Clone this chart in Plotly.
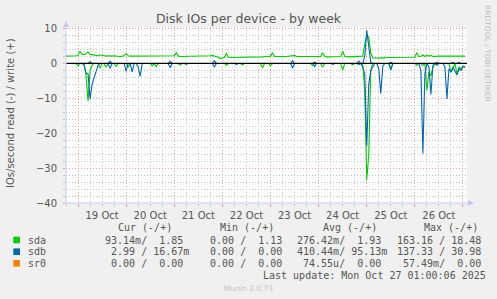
import pandas as pd
import plotly.graph_objects as go

# ---------------- data (hourly samples, first at 2025-10-18 18:00) ----------------
start = "2025-10-18 18:00"
n_hours = 200

sda_write = [
    2.1, 2.1, 2.0, 2.1, 2.2, 2.2, 2.3, 3.5, 2.6, 2.5, 2.8, 3.3, 2.6, 2.5, 2.3, 2.4, 2.2, 2.5, 2.3, 2.2,
    2.1, 2.2, 2.1, 2.1, 2.2, 2.1, 2.1, 2.0, 2.1, 2.2, 2.9, 2.2, 2.1, 2.1, 2.0, 2.1, 2.1, 2.0, 2.0, 2.1,
    2.1, 2.0, 2.1, 2.1, 2.0, 2.0, 2.1, 2.0, 2.0, 2.1, 2.0, 2.1, 2.1, 2.0, 2.2, 3.1, 2.1, 2.0, 2.0, 2.1,
    2.0, 2.0, 2.1, 2.0, 2.0, 2.1, 2.0, 2.0, 2.1, 2.1, 2.1, 2.2, 2.2, 2.3, 2.2, 2.0, 1.8, 1.4, 1.5, 1.7,
    2.9, 1.8, 1.7, 1.7, 1.8, 1.7, 1.7, 1.8, 1.7, 1.7, 1.8, 1.7, 1.7, 1.8, 1.8, 1.7, 1.8, 1.9, 1.9, 2.0,
    1.9, 2.0, 2.1, 3.1, 2.0, 1.9, 2.0, 2.0, 1.9, 2.0, 2.0, 2.1, 2.0, 2.2, 2.3, 2.0, 2.0, 1.9, 2.0, 2.0,
    1.9, 2.0, 2.0, 2.0, 2.0, 2.0, 2.1, 2.0, 3.1, 2.0, 1.9, 1.9, 2.0, 1.9, 1.9, 2.0, 1.9, 2.0, 3.5, 2.0,
    1.9, 1.9, 2.0, 1.9, 1.9, 1.9, 2.0, 2.0, 2.1, 5.5, 8.0, 7.5, 3.0, 1.6, 1.5, 1.5, 1.5, 1.6, 1.5, 1.6,
    1.7, 1.7, 1.7, 1.6, 1.7, 1.7, 1.7, 1.7, 1.6, 1.7, 1.7, 1.7, 1.8, 1.7, 1.8, 3.1, 2.0, 2.0, 2.5, 2.0,
    2.4, 2.1, 2.3, 2.0, 2.1, 2.0, 2.1, 2.1, 2.1, 2.0, 2.1, 2.1, 2.0, 2.1, 2.1, 2.0, 2.1, 2.0, 2.2, 2.1,
]
sda_read = [
    0, 0, 0, 0, 0, 0, -0.7, 0, 0, 0, -3.5, -10.8, -2.0, -0.5, 0, 0, 0, -1.4, 0, 0,
    -1.1, 0, 0, 0, 0, -0.8, 0, 0, 0, 0, 0, -1.1, 0, 0, 0, 0, 0, 0, 0, 0,
    0, 0, 0, -0.7, 0, -0.9, 0, 0, 0, 0, 0, 0, 0, 0, 0, 0, 0, -0.4, 0, 0,
    0, 0, 0, 0, 0, 0, 0, 0, 0, 0, 0, 0, 0, 0, 0, 0, 0, 0, 0, 0,
    -0.5, 0, 0, 0, 0, 0, 0, 0, -0.4, 0, 0, 0, 0, 0, 0, 0, 0, 0, -1.2, 0,
    0, 0, -0.7, 0, 0, 0, 0, 0, 0, 0, 0, 0, 0, 0, 0, 0, 0, 0, 0, 0,
    0, 0, 0, -0.6, 0, 0, 0, 0, -1.0, 0, 0, 0, 0, 0, 0, 0, 0, 0, -1.9, 0,
    0, 0, 0, -0.4, 0, 0, 0, 0, 0, -8.0, -33.3, -26.1, -2.0, 0, 0, 0, 0, 0, 0, 0,
    0, 0, -1.5, 0, 0, 0, 0, 0, 0, 0, 0, 0, 0, 0, 0, -0.5, 0, 0, -0.6, 0,
    -7.7, -2.5, -3.5, -1.0, 0, 0, 0, 0, 0, 0, 0, 0, -2.5, -1.5, 0, -3.0, -1.0, -1.5, -0.8, -1.2,
]
sdb_write = [
    0, 0, 0, 0, 0, 0, 0, 0, 0, 0, 0, 0, 0.5, 0, 0, 0, 0, 0, 0, 0,
    0, 0, 0.6, 0, 0, 0, 0, 0, 0, 0, 0, 0, 0, 0, 0, 0, 0, 0, 0, 0,
    0, 0, 0, 0, 0, 0, 0, 0, 0, 0, 0, 0, 0.6, 0, 0, 0, 0, 0, 0, 0,
    0, 0, 0, 0, 0, 0, 0, 0, 0, 0, 0, 0, 0, 0, 0.8, 0, 0, 0, 0, 0,
    0, 0, 0, 0, 0, 0, 0, 0, 0, 0, 0, 0, 0, 0, 0, 0, 0, 0, 0, 0,
    0, 0, 0, 0, 0, 0, 0, 0, 0, 0, 0, 0, 0, 0.8, 0, 0, 0, 0, 0, 0,
    0, 0, 0, 0, 0.4, 0, 0, 0, 0, 0, 0, 0, 0, 0, 0, 0, 0, 0, 0, 0,
    0, 0, 0, 0, 0, 0, 0.7, 0, 0, 2.0, 9.5, 4.0, 0.3, 0, 0, 0, 0, 0, 0, 0,
    0, 0, 0.3, 0, 0, 0, 0, 0, 0, 0, 0, 0, 0, 0, 0, 0, 0, 0, 0, 0,
    0, 0, 0, 0, 0, 0.3, 0, 0, 0, 0, 0, 0, 0, 0.3, 0, 0, 0.3, 0, 0, 0,
]
sdb_read = [
    0, 0, 0, 0, 0, 0, 0, 0, 0, -0.5, -2.7, -3.0, -10.2, -6.0, -4.3, -2.4, -0.5, 0, 0, 0,
    0, 0, -1.4, 0, 0, 0, 0, 0, 0, 0, -2.3, 0, 0, -2.4, 0, 0, -1.0, -3.7, 0, 0,
    0, 0, 0, 0, 0, 0, 0, 0, 0, 0, 0, 0, -1.2, 0, 0, 0, 0, 0, 0, 0,
    -0.3, 0, 0, 0, 0, 0, 0, 0, 0, 0, 0, 0, 0, 0, -1.0, 0, 0, 0, 0, 0,
    0, 0, 0, 0, 0, -0.3, 0, 0, 0, 0, 0, 0, 0, 0, 0, 0, 0, 0, 0, 0,
    0, 0, 0, 0, 0, 0, 0, 0, 0, 0, 0, 0, 0, -1.3, 0, 0, 0, 0, 0, 0,
    0, 0, 0, 0, -0.9, 0, 0, 0, 0, 0, 0, 0, 0, -0.3, 0, 0, 0, 0, 0, 0,
    0, 0, 0, 0, 0, 0, -0.3, 0, -1.0, -3.0, -23.7, -6.0, -2.0, -1.0, 0, 0, -1.5, -8.6, -0.8, 0,
    0, 0, -1.9, 0, 0, 0, 0, 0, 0, 0, 0, 0, 0, 0, 0, 0, 0, -2.0, -25.8, -3.0,
    0, -1.0, -8.9, -0.5, 0, -0.5, 0, 0, 0, -1.0, -10.2, -1.5, -2.4, -1.0, -2.0, -3.3, -1.5, -2.0, -0.8, -1.0,
]
sr0_write = [0] * n_hours
sr0_read = [0] * n_hours

devices = ["sda", "sdb", "sr0"]
colors = ["#00CC00", "#0066B3", "#FF8000"]
cur_cells = [" 93.14m/  1.85 ", "  2.99 / 16.67m", "  0.00 /  0.00 "]
min_cells = ["  0.00 /  1.13 ", "  0.00 /  0.00 ", "  0.00 /  0.00 "]
avg_cells = ["276.42m/  1.93 ", "410.44m/ 95.13m", " 74.55u/  0.00 "]
max_cells = ["163.16 / 18.48 ", "137.33 / 30.98 ", " 57.49m/  0.00 "]
headers = ["Cur (-/+)", "Min (-/+)", "Avg (-/+)", "Max (-/+)"]
last_update = "Last update: Mon Oct 27 01:00:06 2025"
y_ticks = [10, 0, -10, -20, -30, -40]

# ---------------- layout geometry ----------------
W, H = 497, 299
L, R, T, B = 66, 30, 27, 96
PW, PH = W - L - R, H - T - B


def px(x):
    return (x - L) / PW


def py(y):
    return (T + PH - y) / PH


times = pd.date_range(start, periods=n_hours, freq="h")
series = [(sda_read, sda_write), (sdb_read, sdb_write), (sr0_read, sr0_write)]

fig = go.Figure()
for name, col, (rd, wr) in zip(devices, colors, series):
    fig.add_trace(go.Scatter(x=times, y=rd, mode="lines", name=name + " read",
                             line=dict(color=col, width=1.1), hoverinfo="skip"))
    fig.add_trace(go.Scatter(x=times, y=wr, mode="lines", name=name + " write",
                             line=dict(color=col, width=1.1), hoverinfo="skip"))

TXT = "#555555"
MAJ = "#EE9A9A"
MIN = "#C4C4C4"
AX = "#C8C8F4"
FONT = "DejaVu Sans"
MONO = "DejaVu Sans Mono"
DOT = "1px,2px"

fig.update_layout(
    width=W, height=H,
    margin=dict(l=L, r=R, t=T, b=B),
    paper_bgcolor="#F0F0F0", plot_bgcolor="#FFFFFF",
    showlegend=False,
    font=dict(family=FONT, size=10, color=TXT),
    title=dict(text="Disk IOs per device - by week", x=0.5, xref="container",
               y=1 - 19 / H, yref="container", yanchor="middle", xanchor="center",
               font=dict(family=FONT, size=12.5, color=TXT)),
)
fig.update_xaxes(
    type="date",
    range=["2025-10-18 18:00", "2025-10-27 02:00"],
    tick0="2025-10-19", dtick=86400000, ticklabelmode="period",
    tickformat="%d %b",
    showgrid=True, gridcolor=MAJ, griddash=DOT, gridwidth=1,
    ticks="outside", ticklen=3, tickcolor=MAJ,
    tickfont=dict(family=FONT, size=10, color=TXT),
    minor=dict(dtick=6 * 3600 * 1000, showgrid=True, gridcolor=MIN, griddash=DOT,
               ticks="outside", ticklen=2, tickcolor=MIN),
    showline=False, zeroline=False, fixedrange=True,
)
fig.update_yaxes(
    range=[-40, 10.45], tickvals=y_ticks,
    showgrid=True, gridcolor=MAJ, griddash=DOT, gridwidth=1,
    ticks="outside", ticklen=2, tickcolor=MAJ, ticklabelstandoff=4,
    tickfont=dict(family=FONT, size=10, color=TXT),
    minor=dict(dtick=2, showgrid=True, gridcolor=MIN, griddash=DOT,
               ticks="outside", ticklen=2, tickcolor=MIN),
    showline=False, zeroline=False, fixedrange=True,
)

shapes = []
# zero rule on top of data
shapes.append(dict(type="line", xref="paper", yref="y", x0=0, x1=1, y0=0, y1=0,
                   line=dict(color="#000000", width=1.2), layer="above"))
# axis lines with arrows
shapes.append(dict(type="line", xref="paper", yref="paper", x0=0, x1=0, y0=0, y1=py(24),
                   line=dict(color=AX, width=1), layer="above"))
shapes.append(dict(type="line", xref="paper", yref="paper", x0=0, x1=px(470), y0=0, y1=0,
                   line=dict(color=AX, width=1), layer="above"))
shapes.append(dict(type="path", xref="paper", yref="paper",
                   path=f"M {px(63)} {py(27)} L {px(69)} {py(27)} L {px(66)} {py(21)} Z",
                   fillcolor=AX, line=dict(color=AX, width=0), layer="above"))
shapes.append(dict(type="path", xref="paper", yref="paper",
                   path=f"M {px(468)} {py(200)} L {px(468)} {py(206)} L {px(474)} {py(203)} Z",
                   fillcolor=AX, line=dict(color=AX, width=0), layer="above"))

ann = []
ann.append(dict(text="IOs/second read (-) / write (+)", xref="paper", yref="paper",
                x=px(10), y=py(113), textangle=-90, showarrow=False,
                xanchor="center", yanchor="middle", font=dict(family=FONT, size=10, color=TXT)))
ann.append(dict(text="RRDTOOL / TOBI OETIKER", xref="paper", yref="paper",
                x=px(488), y=py(53), textangle=90, showarrow=False,
                xanchor="center", yanchor="middle", font=dict(family=FONT, size=7.5, color="#BDBDBD")))
ann.append(dict(text="Munin 2.0.73", xref="paper", yref="paper",
                x=px(248), y=py(288.5), showarrow=False,
                xanchor="center", yanchor="middle", font=dict(family=FONT, size=7.5, color="#C4C4C4")))


def mono(text, x, y):
    ann.append(dict(text=text.replace(" ", "\u00a0"), xref="paper", yref="paper",
                    x=px(x), y=py(y), showarrow=False, xanchor="left", yanchor="middle",
                    borderpad=0, font=dict(family=MONO, size=10, color=TXT)))


for hdr, hx in zip(headers, [116.7, 219, 321.7, 423]):
    mono(hdr, hx, 227.3)

row_y = [240, 251.7, 263.3]
for i, (name, col) in enumerate(zip(devices, colors)):
    yy = row_y[i]
    shapes.append(dict(type="rect", xref="paper", yref="paper",
                       x0=px(13.3), x1=px(20), y0=py(yy - 3.3), y1=py(yy + 3.3),
                       fillcolor=col, line=dict(width=0), layer="above"))
    mono(name, 26.7, yy)
    mono(cur_cells[i], 98, yy)
    mono(min_cells[i], 197.3, yy)
    mono(avg_cells[i], 296, yy)
    mono(max_cells[i], 396, yy)

mono(last_update, 261.7, 275.7)

fig.update_layout(shapes=shapes, annotations=ann)
fig.write_html("out.html")
